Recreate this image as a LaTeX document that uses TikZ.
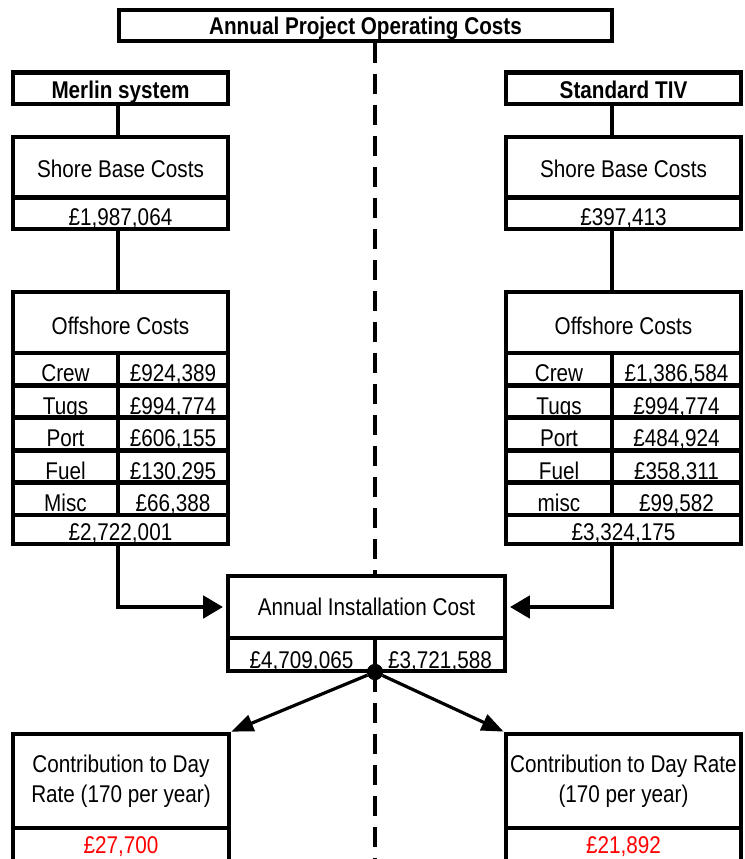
\documentclass[tikz,border=0pt]{standalone}
\usepackage{fontspec}
\setmainfont{Liberation Sans}[FakeStretch=0.855]
\usetikzlibrary{arrows.meta}
\definecolor{valred}{RGB}{255,0,0}

\tikzset{
  frame/.style={draw, line width=4.8pt, rectangle, inner sep=0pt,
    font=\fontsize{24.2}{30.5}\selectfont, text depth=0pt},
  % text height sets how far the capitals sit below the cell centre
  sup2/.style={text height=13.5pt},
  s0/.style={text height=17.5pt},
  s1/.style={text height=19.5pt},
  s2/.style={text height=21.5pt},
  s3/.style={text height=23.5pt},
  s4/.style={text height=25.5pt},
  s5/.style={text height=27.5pt},
  multi/.style={align=center, text height=, text depth=},
  heading/.style={font=\fontsize{24.2}{30.5}\selectfont\bfseries},
  link/.style={line width=4.8pt},
  flow/.style={line width=4.8pt, -{Triangle[length=20pt,width=22pt]}, shorten >=2.5pt},
  share/.style={line width=3.2pt, -{Triangle[length=22pt,width=17pt]}},
  midline/.style={line width=4.8pt, dash pattern=on 20pt off 11pt},
  value/.style={text=valred}
}

% cell: [style]{name}{x1}{y1}{x2}{y2}{text}
\newcommand\cell[7][]{%
  \node[frame,#1,minimum width={#5-#3},minimum height={#6-#4}] (#2)
    at ({(#3+#5)/2},{(#4+#6)/2}) {#7};}

\begin{document}
\begin{tikzpicture}[x=1pt,y=-1pt]
\useasboundingbox (0,0) rectangle (744,859);
\clip (0,0) rectangle (744,859);

\coordinate (lx) at (118,0);
\coordinate (rx) at (612,0);
\coordinate (mx) at (375,0);
\coordinate (foot) at (375,875);

% heading boxes
\cell[s0,heading]{title}{119}{10}{612}{41}{Annual Project Operating Costs}
\cell[s2,heading]{merlin}{13}{72.5}{228}{104}{Merlin system}
\cell[s2,heading]{tiv}{506}{72.5}{741}{104}{Standard TIV}

% shore base costs
\cell[s1]{lshore}{13}{137}{228}{197.5}{Shore Base Costs}
\cell[s3]{lshorev}{13}{197.5}{228}{229}{£1,987,064}
\cell[s1]{rshore}{506}{137}{741}{197.5}{Shore Base Costs}
\cell[s3]{rshorev}{506}{197.5}{741}{229}{£397,413}

% offshore costs, Merlin system
\cell[s3]{loff}{13}{292}{228}{353}{Offshore Costs}
\cell[s4]{lcrew}{13}{353}{118}{385.4}{Crew}
\cell[s4]{lcrewv}{118}{353}{228}{385.4}{£924,389}
\cell[s4]{ltug}{13}{385.4}{118}{417.8}{Tugs}
\cell[s4]{ltugv}{118}{385.4}{228}{417.8}{£994,774}
\cell[s4]{lport}{13}{417.8}{118}{450.2}{Port}
\cell[s4]{lportv}{118}{417.8}{228}{450.2}{£606,155}
\cell[s4]{lfuel}{13}{450.2}{118}{482.6}{Fuel}
\cell[s4]{lfuelv}{118}{450.2}{228}{482.6}{£130,295}
\cell[s4]{lmisc}{13}{482.6}{118}{515}{Misc}
\cell[s4]{lmiscv}{118}{482.6}{228}{515}{£66,388}
\cell[s2]{ltot}{13}{515}{228}{544}{£2,722,001}

% offshore costs, standard TIV
\cell[s3]{roff}{506}{292}{741}{353}{Offshore Costs}
\cell[s4]{rcrew}{506}{353}{612}{385.4}{Crew}
\cell[s4]{rcrewv}{612}{353}{741}{385.4}{£1,386,584}
\cell[s4]{rtug}{506}{385.4}{612}{417.8}{Tugs}
\cell[s4]{rtugv}{612}{385.4}{741}{417.8}{£994,774}
\cell[s4]{rport}{506}{417.8}{612}{450.2}{Port}
\cell[s4]{rportv}{612}{417.8}{741}{450.2}{£484,924}
\cell[s4]{rfuel}{506}{450.2}{612}{482.6}{Fuel}
\cell[s4]{rfuelv}{612}{450.2}{741}{482.6}{£358,311}
\cell[s4]{rmisc}{506}{482.6}{612}{515}{misc}
\cell[s4]{rmiscv}{612}{482.6}{741}{515}{£99,582}
\cell[s2]{rtot}{506}{515}{741}{544}{£3,324,175}

% annual installation cost
\cell[s0]{inst}{228}{576}{505}{638}{Annual Installation Cost}
\cell[s5]{instl}{228}{638}{375}{671}{£4,709,065}
\cell[s5]{instr}{375}{638}{505}{671}{£3,721,588}

% contribution to day rate
\cell[multi]{lcon}{13}{734}{229}{828}{Contribution to Day\\Rate (170 per year)}
\cell[sup2,value]{lconv}{13}{828}{229}{866}{£27,700}
\cell[multi]{rcon}{506}{734}{741}{828}{Contribution to Day Rate\\(170 per year)}
\cell[sup2,value]{rconv}{506}{828}{741}{866}{£21,892}

% dividing line between the two systems
\draw[midline] (title.south -| mx) -- (inst.north -| mx);
\node[circle, fill, inner sep=0pt, minimum size=16pt] (dot) at (375,672) {};
\draw[midline] (dot.center) -- (foot);
\node[circle, fill, inner sep=0pt, minimum size=16pt] at (dot) {};

% column connectors
\draw[link] (merlin.south -| lx) -- (lshore.north -| lx);
\draw[link] (lshorev.south -| lx) -- (loff.north -| lx);
\draw[link] (tiv.south -| rx) -- (rshore.north -| rx);
\draw[link] (rshorev.south -| rx) -- (roff.north -| rx);

% totals into the installation cost
\draw[flow] (ltot.south -| lx) |- (inst.west);
\draw[flow] (rtot.south -| rx) |- (inst.east);

% installation cost shared out per day
\draw[share] (dot) -- (lcon.north east);
\draw[share] (dot) -- (rcon.north west);
\end{tikzpicture}
\end{document}
